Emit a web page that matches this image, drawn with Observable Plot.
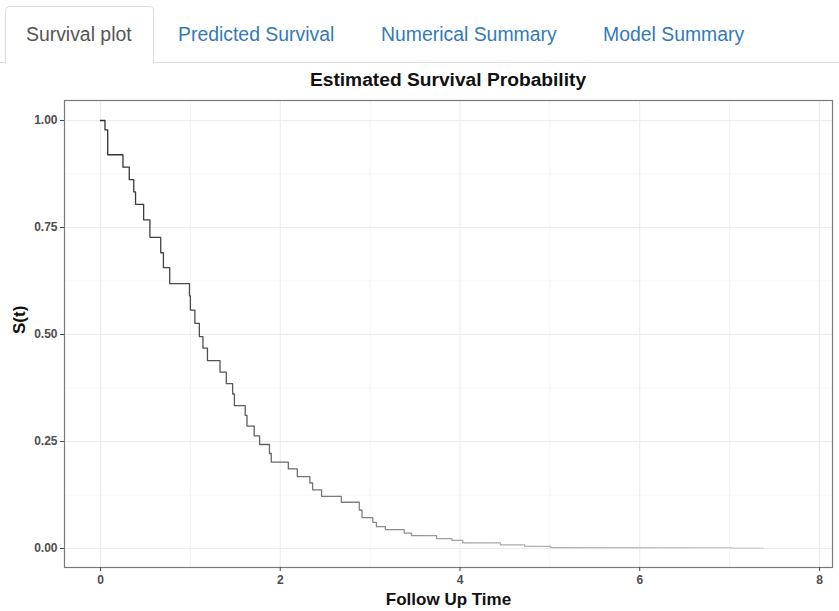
<!DOCTYPE html>
<html>
<head>
<meta charset="utf-8">
<script src="https://cdn.jsdelivr.net/npm/d3@7"></script>
<script src="https://cdn.jsdelivr.net/npm/@observablehq/plot@0.6"></script>
<style>
  html, body { margin: 0; padding: 0; background: #fff; width: 839px; height: 611px; overflow: hidden; }
  body { font-family: "Liberation Sans", Arial, Helvetica, sans-serif; }
  #tabs { position: relative; height: 63px; }
  #tabs .line { position: absolute; left: 0; right: 0; top: 62px; height: 0; border-top: 1px solid #ddd; }
  #tabs .active { position: absolute; left: 5px; top: 6px; width: 147px; height: 56px; border: 1px solid #ddd; border-bottom: 1px solid #fff; border-radius: 5px 5px 0 0; background: #fff; box-sizing: content-box; }
  #tabs .tab { position: absolute; top: 22px; font-size: 19.4px; line-height: 24px; color: #337ab7; white-space: nowrap; }
  #tabs .tab.on { color: #555; }
  #title { position: absolute; left: 64px; width: 768px; top: 69px; text-align: center; font-weight: bold; font-size: 19.2px; line-height: 22px; color: #111; }
  #chart { position: absolute; left: 0; top: 92px; }
</style>
</head>
<body>
<div id="tabs">
  <div class="line"></div>
  <div class="active"></div>
</div>
<div id="title"></div>
<div id="chart"></div>
<script>
const tabLabels = ["Survival plot", "Predicted Survival", "Numerical Summary", "Model Summary"];
const titleText = "Estimated Survival Probability";
const xLabel = "Follow Up Time";
const yLabel = "S(t)";

// Kaplan-Meier step estimates (time of step, survival after step)
const times = [0, 0.05, 0.08, 0.25, 0.32, 0.37, 0.39, 0.48, 0.55, 0.67, 0.70, 0.77, 0.99, 1.00, 1.05, 1.10, 1.14, 1.19, 1.33, 1.40, 1.47, 1.49, 1.61, 1.63, 1.71, 1.77, 1.88, 1.90, 2.09, 2.19, 2.33, 2.36, 2.46, 2.68, 2.88, 2.91, 3.03, 3.07, 3.17, 3.38, 3.46, 3.74, 3.91, 4.03, 4.45, 4.72, 5.01, 7.02, 7.37];
const surv = [1.000, 0.978, 0.920, 0.891, 0.862, 0.833, 0.804, 0.768, 0.727, 0.691, 0.656, 0.619, 0.590, 0.557, 0.526, 0.495, 0.468, 0.439, 0.412, 0.385, 0.361, 0.334, 0.311, 0.286, 0.263, 0.243, 0.222, 0.202, 0.186, 0.168, 0.153, 0.137, 0.122, 0.108, 0.090, 0.072, 0.061, 0.051, 0.044, 0.036, 0.030, 0.023, 0.019, 0.013, 0.0086, 0.005, 0.002, 0.001, 0.001];

const xTicks = [0, 2, 4, 6, 8];
const xMinor = [1, 3, 5, 7];
const yTicks = [0, 0.25, 0.5, 0.75, 1];
const yMinor = [0.125, 0.375, 0.625, 0.875];

// tabs
const tabLeft = [26, 178, 381, 603];
const tabsDiv = document.getElementById("tabs");
tabLabels.forEach((t, i) => {
  const d = document.createElement("div");
  d.className = "tab" + (i === 0 ? " on" : "");
  d.style.left = tabLeft[i] + "px";
  d.textContent = t;
  tabsDiv.appendChild(d);
});
document.getElementById("title").textContent = titleText;

const data = times.map((t, i) => ({t, s: surv[i]}));

const plot = Plot.plot({
  width: 839,
  height: 519,
  marginLeft: 64,
  marginRight: 7,
  marginTop: 8,
  marginBottom: 44,
  style: {fontFamily: "Liberation Sans, Arial, sans-serif", background: "#fff", overflow: "visible"},
  x: {domain: [-0.4006, 8.145], ticks: xTicks, tickFormat: d3.format("d"), label: null, tickSize: 4},
  y: {domain: [-0.0444, 1.0467], ticks: yTicks, tickFormat: d3.format(".2f"), label: null, tickSize: 4},
  marks: [
    Plot.ruleX(xMinor, {stroke: "#f4f4f4", strokeWidth: 1}),
    Plot.ruleY(yMinor, {stroke: "#f4f4f4", strokeWidth: 1}),
    Plot.ruleX(xTicks, {stroke: "#ebebeb", strokeWidth: 1}),
    Plot.ruleY(yTicks, {stroke: "#ebebeb", strokeWidth: 1}),
    Plot.line(data, {x: "t", y: "s", curve: "step-after", stroke: "url(#kmgrad)", strokeWidth: 1.3}),
    Plot.frame({stroke: "#7a7a7a", strokeWidth: 1.2}),
    Plot.axisX({ticks: xTicks, tickFormat: d3.format("d"), tickSize: 4, stroke: "#444", color: "#4d4d4d", fontSize: 12, fontWeight: "bold", tickPadding: 4, label: null}),
    Plot.axisY({ticks: yTicks, tickFormat: d3.format(".2f"), tickSize: 4, stroke: "#444", color: "#4d4d4d", fontSize: 12, fontWeight: "bold", tickPadding: 3, label: null}),
    Plot.text([xLabel], {frameAnchor: "bottom", dy: 37, fontSize: 17, fontWeight: "bold", fill: "#111"}),
    Plot.text([yLabel], {frameAnchor: "left", dx: -45, rotate: -90, fontSize: 17, fontWeight: "bold", fill: "#111"})
  ]
});

const svg = d3.select(plot);
const grad = svg.insert("defs", ":first-child").append("linearGradient")
  .attr("id", "kmgrad").attr("x1", "0").attr("x2", "1").attr("y1", "0").attr("y2", "0");
[[0, "#2e2e2e"], [0.28, "#6a6a6a"], [0.55, "#a5a5a5"], [1, "#cdcdcd"]].forEach(([o, c]) =>
  grad.append("stop").attr("offset", o).attr("stop-color", c));

document.getElementById("chart").appendChild(plot);
</script>
</body>
</html>
